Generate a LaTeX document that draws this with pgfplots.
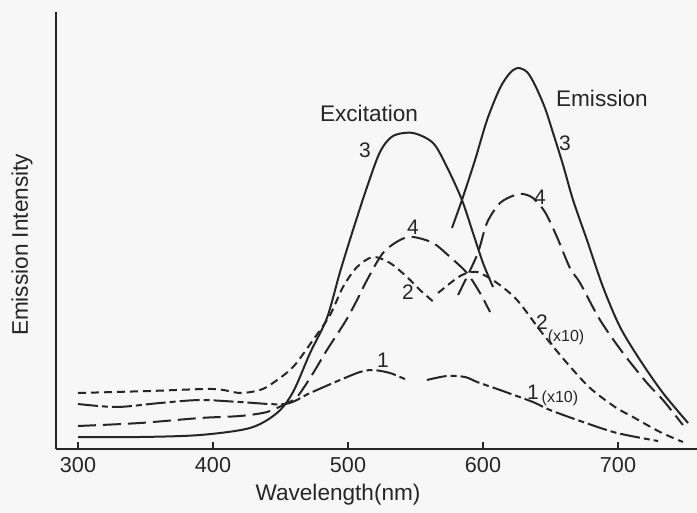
\documentclass[border=0pt]{standalone}
\usepackage{fontspec}
\setmainfont{Liberation Sans}
\usepackage{pgfplots}
\pgfplotsset{compat=1.18}

\newcommand{\lblfont}{\fontsize{11.3bp}{13bp}\selectfont}
\newcommand{\numfont}{\fontsize{10.5bp}{12bp}\selectfont}
\newcommand{\factfont}{\fontsize{8bp}{9bp}\selectfont}

\pgfplotsset{
  spec/.style={black!85, line width=1bp, smooth, no markers},
  curve3/.style={spec, solid},
  curve4/.style={spec, dash pattern=on 9bp off 3.5bp},
  curve2/.style={spec, dash pattern=on 4bp off 2.5bp},
  curve1/.style={spec, dash pattern=on 10bp off 2bp on 3bp off 2bp},
}

\begin{document}
\begin{tikzpicture}
\fill[black!3] (0,0) rectangle (348.5bp,256.5bp);
\begin{axis}[
  at={(28bp,32bp)}, anchor=south west,
  x=0.675bp, y=0.5bp,
  xmin=283.7, xmax=758.5, ymin=0, ymax=437,
  axis x line=bottom, axis y line=left,
  axis line style={-, line width=0.9bp, black!85},
  xtick={300,400,500,600,700}, ytick=\empty,
  tick align=inside, major tick length=3.5bp,
  tick style={line width=0.9bp, black!85},
  /pgf/number format/assume math mode=true,
  xticklabel style={font=\fontsize{10.8bp}{12bp}\selectfont, anchor=center, yshift=-8bp, text=black!85},
  xlabel={Wavelength(nm)}, ylabel={Emission Intensity},
  x label style={at={(axis description cs:0.44,-0.105)}, anchor=center, font=\lblfont, text=black!85},
  y label style={at={(axis description cs:-0.053,0.467)}, anchor=center, font=\lblfont, text=black!85},
  clip=false,
]
% ---- excitation spectra ----
\addplot[curve3] coordinates {
 (300,12) (345.9,12) (390.4,14) (427.4,21) (447.4,36) (459.3,57) (471.9,96)
 (484.4,131) (494.1,177) (503.7,219) (514.1,262) (523.7,297) (533.3,313)
 (548.1,316) (563.0,306) (573.3,282) (584.4,249) (592.6,216) (600,186) (607.4,162)};
\addplot[curve4] coordinates {
 (300,23) (345.9,26) (390.4,31) (420,33) (440,37) (453.3,45) (462.2,52)
 (473.3,74) (484.4,99) (497.8,127) (506.7,149) (514.1,169) (525.9,196)
 (538.5,209) (548.1,212) (563.0,206) (575.6,192) (588.1,176) (597.8,156) (605.2,137)};
\addplot[curve2] coordinates {
 (300,56) (353.3,58) (400,60) (420,56) (434.8,59) (444.4,66) (459.3,82)
 (474.1,109) (486.7,134) (496.3,162) (506.7,182) (518.5,192) (531.1,186)
 (543.7,172) (553.3,159) (564.4,146)};
\addplot[curve1] coordinates {
 (300,45) (328.9,42) (360.7,46) (390.4,49) (420,47) (453.3,45) (471.9,56)
 (494.1,69) (508.9,77) (518.5,79) (531.1,76) (543.7,69)};

% ---- emission spectra ----
\addplot[curve1] coordinates {
 (558.5,69) (573.3,73) (586.7,72) (595.6,67) (612.6,59) (637.0,47)
 (649.6,39) (674.1,27) (699.3,16) (729.6,8)};
\addplot[curve2] coordinates {
 (566.7,156) (580.7,171) (588.1,176) (592.6,177) (597.8,176) (610.4,166)
 (625.2,149) (644.4,115) (662.2,86) (679.3,61) (697.8,42) (711.1,32)
 (731.1,17) (748.1,7)};
\addplot[curve3] coordinates {
 (577.0,221) (584.4,249) (594.1,289) (603.0,329) (612.6,361) (620,376)
 (625.9,381) (632.6,377) (638.5,364) (645.9,341) (651.9,316) (659.3,284)
 (666.7,249) (677.0,209) (688.9,162) (701.5,122) (716.3,89) (733.3,56) (751.9,26)};
\addplot[curve4] coordinates {
 (581.5,154) (595.6,194) (602.9,226) (612.6,246) (623.7,254) (629.6,255)
 (637.0,251) (645.9,237) (654.8,212) (664.4,181) (671.9,166) (686.7,129)
 (703.7,96) (721.5,66) (733.3,49) (748.1,24)};

% ---- annotations ----
\begin{scope}[every node/.style={text=black!85, inner sep=0pt}]
\node[font=\lblfont] at (axis cs:515.6,336) {Excitation};
\node[font=\lblfont] at (axis cs:688.1,351) {Emission};
\node[font=\numfont] at (axis cs:512.6,299) {3};
\node[font=\numfont] at (axis cs:660.7,306) {3};
\node[font=\numfont] at (axis cs:548.1,222) {4};
\node[font=\numfont] at (axis cs:642.2,252) {4};
\node[font=\numfont] at (axis cs:544.4,157) {2};
\node[font=\numfont] at (axis cs:643.7,127) {2};
\node[font=\factfont] at (axis cs:661.5,112) {(x10)};
\node[font=\numfont] at (axis cs:525.9,89) {1};
\node[font=\numfont] at (axis cs:637.0,57) {1};
\node[font=\factfont] at (axis cs:657.0,51) {(x10)};
\end{scope}
\end{axis}
\pgfresetboundingbox
\path (0,0) rectangle (348.5bp,256.5bp);
\end{tikzpicture}
\end{document}
